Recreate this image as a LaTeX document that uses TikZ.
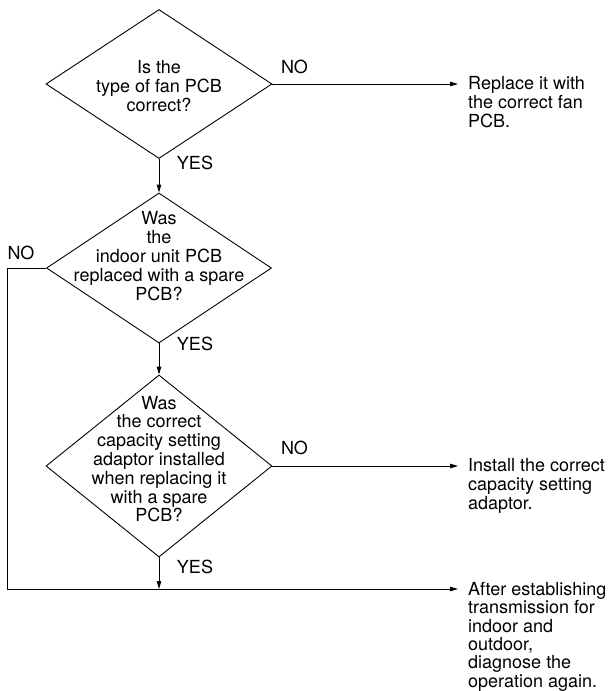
\documentclass[tikz,border=0pt]{standalone}
\usepackage{fontspec}
\setmainfont{TeX Gyre Heros}
\usetikzlibrary{shapes.geometric,arrows.meta}
\begin{document}
\begin{tikzpicture}[x=1pt,y=-1pt,
  txt/.style={font=\fontsize{18}{18.8}\selectfont, inner sep=0pt, align=center},
  rtxt/.style={font=\fontsize{18}{18.8}\selectfont, inner sep=0pt, align=left, anchor=north west},
  lbl/.style={font=\fontsize{18}{18.8}\selectfont, inner sep=0pt},
  dia/.style={draw, diamond, inner sep=0pt, line width=0.9pt},
  arr/.style={line width=0.9pt, -{Triangle[length=8pt,width=4.5pt]}}]
\useasboundingbox (0,0) rectangle (612,691);

% decisions
\node[dia, minimum width=226pt, minimum height=149pt] (d1) at (159,84) {};
\node[txt] (t1) at (159,86) {Is the\\type of fan PCB\\correct?};
\node[dia, minimum width=225pt, minimum height=150pt] (d2) at (159,268) {};
\node[txt] (t2) at (159,256) {Was\\the\\indoor unit PCB\\replaced with a spare\\PCB?};
\node[dia, minimum width=226pt, minimum height=182pt] (d3) at (159,466) {};
\node[txt] (t3) at (159,459) {Was\\the correct\\capacity setting\\adaptor installed\\when replacing it\\with a spare\\PCB?};

% results
\coordinate (e1) at (458,84);
\coordinate (e2) at (458,466);
\coordinate (e3) at (458,589);
\node[rtxt] (r1) at (468,76.5) {Replace it with\\the correct fan\\PCB.};
\node[rtxt] (r2) at (468,458.5) {Install the correct\\capacity setting\\adaptor.};
\node[rtxt, font=\fontsize{18}{18.4}\selectfont] (r3) at (468,582) {After establishing\\transmission for\\indoor and\\outdoor,\\diagnose the\\operation again.};

% connectors
\draw[arr] (d1.east) -- (e1);
\draw[arr] (d1.south) -- (d2.north);
\draw[arr] (d2.south) -- (d3.north);
\draw[arr] (d3.east) -- (e2);
\coordinate (m3) at (d3.south |- e3);
\draw[arr] (d3.south) -- (m3);
\coordinate (c1) at (7,268);
\coordinate (c2) at (7,589);
\draw[arr] (d2.west) -- (c1) -- (c2) -- (e3);

% labels
\node[lbl] (n1) at (294.5,67) {NO};
\node[lbl] (y1) at (195,163) {YES};
\node[lbl] (n2) at (21,253) {NO};
\node[lbl] (y2) at (195,344) {YES};
\node[lbl] (n3) at (294.5,448) {NO};
\node[lbl] (y3) at (195,567) {YES};
\end{tikzpicture}
\end{document}
